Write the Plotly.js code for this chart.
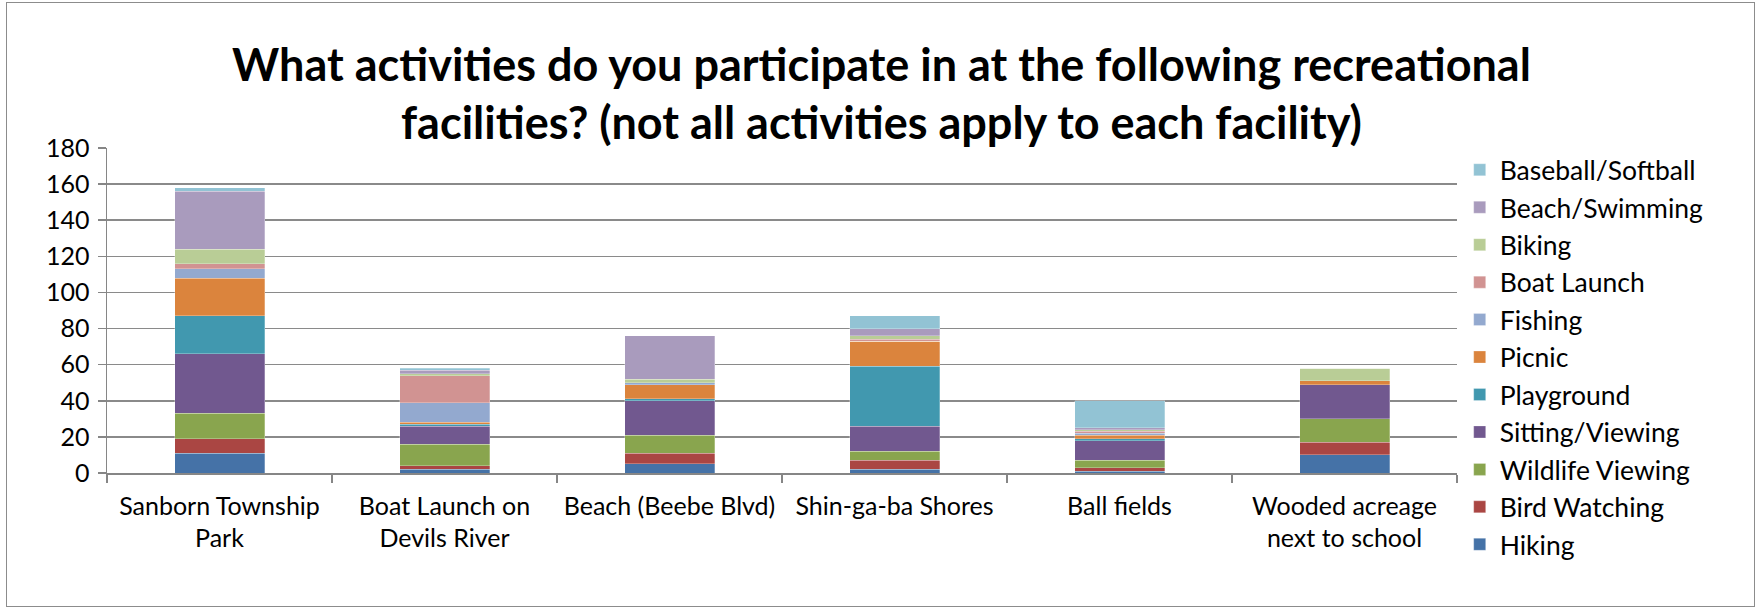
<!DOCTYPE html>
<html>
<head>
<meta charset="utf-8">
<script src="https://cdn.plot.ly/plotly-3.0.1.min.js"></script>
<style>
html,body{margin:0;padding:0;background:#fff;}
#wrap{position:relative;width:1763px;height:610px;}
#chart{position:absolute;left:0;top:0;width:1763px;height:610px;}
#frame{position:absolute;left:6px;top:2px;width:1747px;height:603px;border:1.5px solid #8c8c8c;pointer-events:none;}
</style>
</head>
<body>
<div id="wrap"><div id="chart"></div><div id="frame"></div></div>
<script>
const categories = ["Sanborn Township<br>Park", "Boat Launch on<br>Devils River", "Beach (Beebe Blvd)", "Shin-ga-ba Shores", "Ball fields", "Wooded acreage<br>next to school"];

const hiking          = [11, 2, 5, 2, 1, 10];
const birdWatching    = [8, 2, 6, 5, 2, 7];
const wildlifeViewing = [14, 12, 10, 5, 4, 13];
const sittingViewing  = [33, 10, 19, 14, 11, 19];
const playground      = [21, 1, 1, 33, 1, 0];
const picnic          = [21, 1, 8, 14, 2, 2];
const fishing         = [5, 11, 1, 0, 1, 0];
const boatLaunch      = [3, 15, 0, 1, 1, 0];
const biking          = [8, 1, 2, 2, 1, 7];
const beachSwimming   = [32, 2, 24, 4, 1, 0];
const baseballSoftball= [2, 1, 0, 7, 15, 0];

const seriesNames = ["Hiking", "Bird Watching", "Wildlife Viewing", "Sitting/Viewing", "Playground", "Picnic", "Fishing", "Boat Launch", "Biking", "Beach/Swimming", "Baseball/Softball"];
const seriesValues = [hiking, birdWatching, wildlifeViewing, sittingViewing, playground, picnic, fishing, boatLaunch, biking, beachSwimming, baseballSoftball];
const seriesColors = ["#4572A7", "#AA4643", "#89A54E", "#71588F", "#4198AF", "#DB843D", "#93A9CF", "#D19392", "#B9CD96", "#A99BBD", "#92C3D4"];

const FONT = "Lato, 'Liberation Sans', sans-serif";

const traces = seriesNames.map((n, i) => ({
  type: "bar",
  name: n,
  x: categories,
  y: seriesValues[i],
  legendgroup: "g" + i,
  legendrank: 100 - i,
  marker: {color: seriesColors[i], line: {color: "rgba(255,255,255,0.45)", width: 0.6}},
  hoverinfo: "x+y+name"
}));

const layout = {
  width: 1763, height: 610,
  paper_bgcolor: "#fff", plot_bgcolor: "#fff",
  barmode: "stack",
  bargap: 0.6,
  margin: {l: 107, r: 306, t: 148, b: 137},
  font: {family: FONT, size: 25, color: "#000"},
  title: {
    text: "<b>What activities do you participate in at the following recreational<br>facilities? (not all activities apply to each facility)</b>",
    font: {family: FONT, size: 45, color: "#000"},
    x: 0.5, xref: "container", xanchor: "center",
    y: 0.868, yref: "container", yanchor: "top"
  },
  xaxis: {
    type: "category",
    showline: true, linecolor: "#868686", linewidth: 1.5,
    ticks: "outside", tickson: "boundaries", ticklen: 8, tickcolor: "#868686", tickwidth: 1.5,
    tickfont: {family: FONT, size: 25, color: "#000"},
    ticklabelstandoff: 10,
    showgrid: false, zeroline: false
  },
  yaxis: {
    range: [0, 180], dtick: 20, tick0: 0,
    showline: true, linecolor: "#868686", linewidth: 1.5,
    ticks: "outside", ticklen: 8, tickcolor: "#868686", tickwidth: 1.5,
    tickfont: {family: FONT, size: 25, color: "#000"},
    ticklabelstandoff: 3,
    showgrid: true, gridcolor: "#8a8a8a", gridwidth: 1.5,
    zeroline: false
  },
  legend: {
    x: 1.002, xanchor: "left",
    y: 1.006, yanchor: "top",
    traceorder: "grouped",
    tracegroupgap: 0,
    maxheight: 600,
    font: {family: FONT, size: 26.5, color: "#000"},
    bgcolor: "rgba(0,0,0,0)"
  },
  showlegend: true
};

Plotly.newPlot("chart", traces, layout, {displayModeBar: false, staticPlot: true});
</script>
</body>
</html>
